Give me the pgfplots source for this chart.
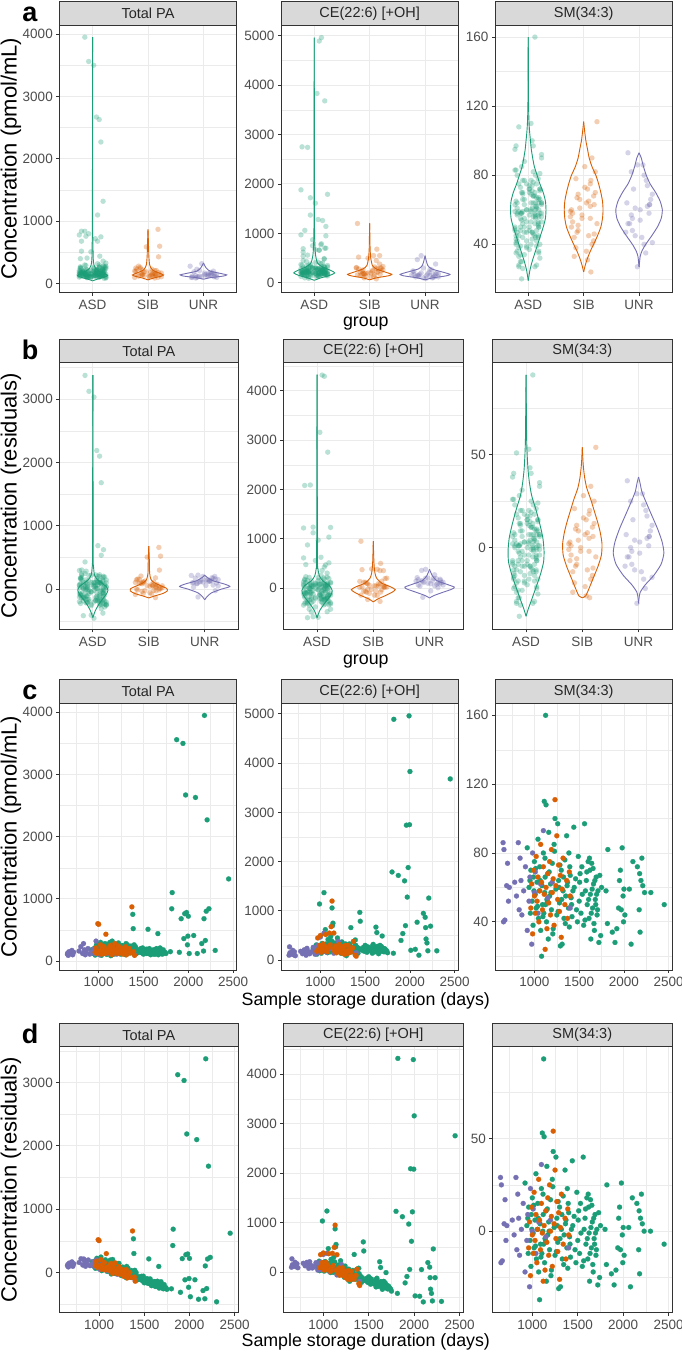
\documentclass[border=0pt]{standalone}
\usepackage{fontspec}
\setmainfont{Liberation Sans}
\usepackage{pgfplots}
\usepackage{pgfplotstable}
\pgfplotsset{compat=1.18}
\definecolor{asd}{HTML}{1B9E77}
\definecolor{sib}{HTML}{D95F02}
\definecolor{unr}{HTML}{7570B3}
\definecolor{gridc}{HTML}{EBEBEB}
\definecolor{bord}{HTML}{333333}
\definecolor{stripbg}{HTML}{D9D9D9}
\definecolor{ticklab}{HTML}{4D4D4D}

% columns: j = jitter offset, d = storage days, pa/ce/sm = concentration, par/cer/smr = residuals
\pgfplotstableread{
j d pa par ce cer sm smr
-0.22 920 180 171 230 163 83 26
0.05 940 120 102 150 72 60 3
0.18 955 210 185 310 223 45 -12
-0.10 960 95 68 120 30 70 13
0.12 975 260 226 180 82 52 -5
-0.17 985 140 102 260 156 38 -19
0.21 990 230 189 1140 1034 66 9
-0.03 1000 110 65 200 88 75 18
0.09 1010 170 120 140 22 56 -1
-0.14 1020 300 246 340 217 48 -9
0.24 1030 90 31 230 101 63 6
-0.07 1040 200 137 1370 1236 88 31
0.15 1045 150 85 180 43 42 -15
-0.20 1055 250 180 620 477 58 1
0.02 1060 130 58 300 154 72 15
0.19 1070 280 203 250 99 35 -22
-0.12 1080 160 79 150 -7 20 -37
0.07 1085 220 137 420 260 61 4
-0.24 1090 105 19 210 48 50 -7
0.13 1100 190 100 280 112 80 23
-0.22 1105 270 178 350 179 45 -12
0.05 1110 140 45 170 -4 110 53
0.18 1115 240 143 480 304 57 0
-0.10 1120 120 21 240 61 66 9
0.12 1125 300 199 390 208 160 93
-0.17 1130 180 76 1060 875 108 51
0.21 1135 85 -21 700 512 40 -17
-0.03 1140 210 102 750 560 53 -4
0.09 1150 320 207 290 94 68 11
-0.14 1155 150 35 200 1 30 -27
0.24 1160 260 143 320 118 92 35
-0.07 1170 110 -12 160 -47 55 -2
0.15 1180 200 74 260 47 62 5
-0.20 1190 170 39 450 232 47 -10
0.02 1200 240 105 190 -34 74 17
0.19 1210 130 -10 310 80 36 -21
-0.12 1220 290 146 220 -15 85 28
0.07 1230 160 11 140 -101 100 43
-0.24 1240 210 57 370 124 59 2
0.13 1250 120 -38 250 -2 44 -13
-0.22 1260 250 88 180 -78 97 40
0.05 1270 180 13 120 -143 64 7
0.18 1280 140 -31 330 61 51 -6
-0.10 1290 220 44 90 -184 26 -31
0.12 1300 100 -80 260 -20 70 13
-0.17 1310 190 5 200 -86 27 -30
0.21 1320 260 71 150 -141 58 1
-0.03 1330 150 -44 290 -7 42 -15
0.09 1340 210 12 660 358 76 19
-0.14 1350 130 -73 220 -88 55 -2
0.24 1360 240 33 170 -144 90 33
-0.07 1370 170 -42 380 61 63 6
0.15 1380 750 534 240 -85 48 -9
-0.20 1385 520 302 300 -28 80 23
0.02 1390 200 -21 410 80 37 -20
0.19 1400 150 -75 190 -146 67 10
-0.12 1410 230 0 260 -82 54 -3
0.07 1420 120 -114 140 -207 43 -14
-0.24 1440 180 -63 970 612 95 38
0.13 1445 140 -105 790 429 60 3
-0.22 1460 170 -82 210 -160 65 8
0.05 1480 130 -131 260 -121 40 -17
0.18 1490 210 -56 180 -206 78 21
-0.10 1500 110 -160 300 -92 52 -5
0.12 1510 160 -115 230 -168 68 11
-0.17 1520 140 -139 160 -243 45 -12
0.21 1530 190 -94 270 -139 72 15
-0.03 1550 510 217 210 -210 38 -19
0.09 1560 120 -177 190 -236 97 40
-0.14 1570 170 -132 250 -181 58 1
0.24 1580 100 -206 140 -297 64 7
-0.07 1590 150 -161 320 -122 50 -7
0.15 1600 130 -185 220 -228 75 18
-0.20 1610 180 -140 170 -284 42 -15
0.02 1620 120 -204 670 211 70 13
0.19 1625 160 -166 260 -202 56 -1
-0.12 1630 110 -219 560 95 30 -27
0.07 1640 190 -143 200 -270 74 17
-0.24 1650 140 -198 130 -346 48 -9
0.13 1660 440 98 240 -242 62 5
-0.22 1670 120 -227 180 -307 35 -22
0.05 1680 170 -181 280 -213 53 -4
0.18 1690 130 -226 490 -8 66 9
-0.10 1700 150 -210 210 -294 44 -13
0.12 1710 110 -255 170 -340 58 1
-0.17 1720 180 -189 230 -285 28 -29
0.21 1740 140 -238 190 -336 32 -25
-0.03 1750 120 -263 150 -382 60 3
0.09 1820 1100 686 4890 4319 82 25
-0.14 1815 840 428 140 -428 39 -18
0.24 1800 150 -255 1790 1230 58 1
-0.07 1870 3560 3123 1720 1121 34 -23
0.15 1900 140 -310 400 -216 28 -29
-0.20 1920 680 221 540 -87 36 -21
0.02 1940 3500 3032 1610 972 48 -9
0.19 1950 360 -113 700 56 64 7
-0.12 1960 760 283 2740 2090 70 13
0.07 1970 2670 2188 1280 625 47 -10
-0.24 1980 780 294 1880 1219 83 26
0.13 1990 260 -231 4960 4294 55 -2
-0.22 1995 400 -93 2750 2081 40 -17
0.05 2000 720 225 3830 3158 59 2
0.18 2010 120 -380 200 -478 44 -13
-0.10 2060 410 -112 220 -486 59 2
0.12 2080 2630 2099 770 53 27 -30
-0.17 2100 120 -420 100 -600 75 18
0.21 2150 280 -283 950 194 72 15
-0.03 2170 160 -412 870 103 47 -10
0.09 2175 680 106 660 -110 68 11
-0.14 2180 3950 3374 430 -343 34 -23
0.24 2190 330 -251 350 -428 64 7
-0.07 2200 800 215 190 -580 77 20
0.15 2210 2270 1680 1260 470 61 4
-0.20 2230 840 241 690 -111 57 0
0.02 2300 170 -460 190 -590 57 0
0.19 2450 1320 622 3680 2756 50 -7
-0.12 995 150 107 170 61 58 1
0.07 1015 220 168 280 160 71 14
-0.24 1035 130 69 210 78 49 -8
0.13 1065 180 106 330 182 64 7
-0.22 1095 250 162 190 25 43 -14
0.05 1118 160 62 260 82 77 20
0.18 1145 230 120 220 27 52 -5
-0.10 1165 120 1 350 146 69 12
0.12 1185 270 142 170 -46 57 0
-0.17 1205 150 13 290 63 33 -24
0.21 1225 200 54 240 2 81 24
-0.03 1245 110 -45 310 61 60 3
0.09 1265 230 66 200 -60 46 -11
-0.14 1285 160 -13 270 -2 73 16
0.24 1305 280 98 180 -103 53 -4
-0.07 1325 120 -71 330 36 66 9
0.15 1345 190 -10 250 -55 39 -18
-0.20 1365 140 -69 210 -106 61 4
0.02 1395 260 37 300 -33 72 15
0.19 1415 170 -62 180 -164 50 -7
-0.12 1430 130 -109 240 -113 58 1
0.07 1470 200 -57 200 -175 47 -10
-0.24 1505 150 -123 280 -115 63 6
0.13 1535 120 -166 190 -222 56 -1
-0.22 1565 200 -99 240 -188 41 -16
0.05 1585 130 -178 300 -140 69 12
0.18 1605 160 -157 180 -271 53 -4
-0.10 1615 110 -212 230 -226 77 20
0.12 1635 140 -191 280 -188 45 -12
-0.17 1645 200 -135 160 -313 59 2
0.21 1655 150 -190 220 -259 71 14
-0.03 1665 100 -244 300 -184 39 -18
0.09 1675 160 -189 200 -290 64 7
-0.14 1685 210 -143 250 -246 50 -7
0.24 1695 120 -238 180 -321 56 -1
-0.07 1705 170 -192 240 -267 47 -10
0.15 1730 130 -244 200 -321 67 10
-0.20 950 170 147 200 116 64 7
0.02 1125 200 99 230 48 50 -7
0.19 1275 190 21 210 -56 60 3
}\ASD

\pgfplotstableread{
j d pa par ce cer sm smr
-0.10 960 140 113 180 90 48 -9
0.12 970 210 178 450 355 62 5
-0.17 980 120 84 220 119 33 -24
0.21 990 600 520 300 194 70 13
-0.03 1000 590 505 500 388 55 -2
0.09 1010 160 110 160 42 45 -12
-0.14 1020 260 206 240 117 78 21
0.24 1030 110 51 330 201 52 -5
-0.07 1040 190 127 190 56 66 9
0.15 1050 140 72 280 140 40 -17
-0.20 1060 230 158 520 374 58 1
0.02 1070 120 43 200 49 85 28
0.19 1080 430 300 170 13 63 6
-0.12 1090 170 84 260 98 47 -10
0.07 1100 150 60 550 382 72 15
-0.24 1110 200 105 310 136 56 -1
0.13 1120 130 31 680 501 24 -27
-0.22 1130 250 146 1200 950 60 3
0.05 1140 180 72 230 40 36 -21
0.18 1150 100 -13 550 354 68 11
-0.10 1160 220 103 180 -22 51 -6
0.12 1170 160 38 290 83 75 18
-0.17 1180 280 154 150 -63 44 -13
0.21 1190 140 9 240 22 82 25
-0.03 1200 190 55 200 -24 57 0
0.09 1210 120 -20 320 90 65 8
-0.14 1220 240 96 170 -65 38 -19
0.24 1230 170 21 260 19 111 54
-0.07 1240 130 -23 140 -106 61 4
0.15 1250 210 52 220 -32 90 33
-0.20 1260 150 -12 280 22 53 -4
0.02 1270 110 -57 120 -143 73 16
0.19 1280 180 9 300 31 46 -11
-0.12 1290 140 -36 190 -84 67 10
0.07 1300 230 50 130 -150 31 -26
-0.24 1310 100 -85 300 14 59 2
0.13 1320 160 -29 210 -81 77 20
-0.22 1340 200 2 160 -142 50 -7
0.05 1360 130 -77 250 -64 64 7
0.18 1370 870 658 380 61 42 -15
-0.10 1390 150 -71 100 -230 69 12
0.12 1400 90 -135 80 -270 55 -2
}\SIB

\pgfplotstableread{
j d pa par ce cer sm smr
-0.03 650 110 110 100 100 86 29
0.09 655 130 130 270 270 40 -17
-0.14 660 90 90 150 150 82 25
0.24 670 150 150 120 120 41 -16
-0.07 690 120 120 200 200 61 4
0.15 700 170 170 110 110 74 17
-0.20 710 100 100 170 170 52 -5
0.02 720 140 140 90 90 60 3
0.19 780 160 160 180 180 63 6
-0.12 800 230 220 130 130 55 -2
0.07 820 120 120 210 199 86 29
-0.24 830 280 215 160 143 47 -10
0.13 840 180 180 100 78 77 20
-0.22 850 100 100 240 212 64 7
0.05 860 150 150 180 146 44 -13
0.18 880 200 200 130 85 58 1
-0.10 900 110 110 170 114 72 15
0.12 920 140 131 260 193 35 -22
-0.17 940 190 172 120 42 52 -5
0.21 950 120 97 200 116 66 9
-0.03 970 320 200 300 205 27 -30
0.09 980 160 124 150 49 80 23
-0.14 1000 130 85 470 358 57 0
0.24 1010 100 50 180 62 69 12
-0.07 1040 210 147 550 380 45 -12
0.15 1070 140 63 160 9 62 5
-0.20 1100 120 30 230 62 93 36
0.02 1150 170 57 140 -56 54 -3
0.19 1200 110 -25 380 156 63 6
-0.12 1400 100 -125 150 -186 48 -9
}\UNR

% violin outlines: y and half-width w (category units)
\pgfplotstableread{
y w
45 0
70 0.08
100 0.2
130 0.27
160 0.22
200 0.12
250 0.05
300 0.025
400 0.012
700 0.006
1000 0.003
3950 0
}\vaPAasd
\pgfplotstableread{
y w
60 0
90 0.1
120 0.24
140 0.28
170 0.2
220 0.08
300 0.03
450 0.015
600 0.01
870 0
}\vaPAsib
\pgfplotstableread{
y w
70 0
95 0.12
120 0.35
140 0.42
165 0.3
200 0.12
250 0.05
330 0
}\vaPAunr
\pgfplotstableread{
y w
50 0
100 0.12
150 0.28
200 0.37
250 0.3
320 0.15
400 0.06
550 0.025
700 0.015
1000 0.006
2000 0.003
4960 0
}\vaCEasd
\pgfplotstableread{
y w
60 0
100 0.12
140 0.33
170 0.4
210 0.3
280 0.12
350 0.05
500 0.02
700 0.008
1200 0
}\vaCEsib
\pgfplotstableread{
y w
60 0
100 0.14
140 0.38
170 0.45
210 0.34
280 0.12
350 0.05
450 0.02
550 0
}\vaCEunr
\pgfplotstableread{
y w
19 0
25 0.03
30 0.07
35 0.12
40 0.17
45 0.22
50 0.27
55 0.31
60 0.32
65 0.31
70 0.27
75 0.21
80 0.16
85 0.11
90 0.08
95 0.055
100 0.04
105 0.025
110 0.015
120 0.006
140 0.003
160 0
}\vaSMasd
\pgfplotstableread{
y w
24 0
28 0.03
32 0.07
36 0.12
40 0.18
45 0.25
50 0.31
55 0.34
60 0.35
65 0.34
70 0.31
75 0.27
80 0.22
85 0.15
90 0.1
95 0.07
100 0.04
105 0.02
111 0
}\vaSMsib
\pgfplotstableread{
y w
27 0
30 0.01
33 0.02
36 0.05
40 0.12
45 0.23
50 0.33
55 0.4
60 0.42
65 0.38
70 0.3
75 0.2
80 0.13
85 0.08
90 0.04
93 0
}\vaSMunr
\pgfplotstableread{
y w
-450 0
-350 0.04
-250 0.1
-150 0.18
-80 0.24
-20 0.27
40 0.24
100 0.15
150 0.08
220 0.03
350 0.012
600 0.006
3380 0
}\vbPAasd
\pgfplotstableread{
y w
-140 0
-110 0.1
-70 0.25
-30 0.33
10 0.32
50 0.22
100 0.1
150 0.04
250 0.015
450 0.01
680 0
}\vbPAsib
\pgfplotstableread{
y w
-170 0
-120 0.04
-60 0.12
0 0.3
40 0.45
80 0.35
130 0.15
180 0.05
220 0
}\vbPAunr
\pgfplotstableread{
y w
-600 0
-450 0.05
-300 0.14
-150 0.24
-50 0.27
50 0.22
150 0.1
250 0.04
400 0.015
700 0.007
4330 0
}\vbCEasd
\pgfplotstableread{
y w
-280 0
-220 0.08
-150 0.22
-80 0.34
-30 0.39
30 0.3
100 0.15
200 0.06
300 0.03
500 0.012
950 0
}\vbCEsib
\pgfplotstableread{
y w
-200 0
-150 0.08
-80 0.25
-20 0.4
20 0.44
80 0.3
150 0.13
250 0.05
380 0
}\vbCEunr
\pgfplotstableread{
y w
-37 0
-33 0.04
-28 0.1
-22 0.17
-15 0.25
-8 0.31
-2 0.32
5 0.3
12 0.25
20 0.18
28 0.1
35 0.06
42 0.035
50 0.02
60 0.01
93 0
}\vbSMasd
\pgfplotstableread{
y w
-27 0
-26 0.06
-22 0.12
-16 0.2
-10 0.28
-4 0.34
2 0.35
8 0.32
14 0.27
20 0.21
26 0.15
32 0.08
38 0.04
45 0.015
54 0
}\vbSMsib
\pgfplotstableread{
y w
-30 0
-27 0.01
-24 0.03
-20 0.12
-15 0.27
-9 0.4
-3 0.45
3 0.42
10 0.34
17 0.24
24 0.14
30 0.06
35 0.025
38 0
}\vbSMunr

\pgfplotsset{
  gg/.style={scale only axis, anchor=south west,
    axis line style={draw=bord, line width=0.8pt},
    grid=both, major grid style={draw=gridc, line width=0.9pt},
    minor grid style={draw=gridc, line width=0.45pt},
    tick align=outside, tick pos=left, major tick length=3pt, minor tick length=0pt,
    tick style={draw=bord, line width=0.8pt},
    ticklabel style={font=\fontsize{13.5}{15}\selectfont, text=ticklab},
    /pgf/number format/1000 sep={}, /pgf/number format/assume math mode=true,
    xticklabel shift=1pt},
  disc/.style={xmin=0.4, xmax=3.6, xtick={1,2,3}, xticklabels={ASD,SIB,UNR}},
  days/.style={xmin=560, xmax=2540, xtick={1000,1500,2000,2500}, minor xtick={750,1250,1750,2250}},
  vio/.style={draw=#1, line width=0.9pt, no markers, smooth, tension=0.4},
  jit/.style={only marks, mark=*, color=#1, mark size=2.7pt,
    mark options={fill=#1, draw=#1, fill opacity=0.3, draw opacity=0}},
  sc/.style={only marks, mark=*, color=#1, mark size=2.5pt,
    mark options={fill=#1, draw=#1, line width=0.2pt}},
}
\newcommand{\violin}[3]{%
  \addplot[vio=#3] table[x expr=#2+\thisrow{w}, y=y]{#1};
  \addplot[vio=#3] table[x expr=#2-\thisrow{w}, y=y]{#1};}
\newcommand{\jits}[1]{%
  \addplot[jit=asd] table[x expr=1+\thisrow{j}, y=#1]{\ASD};
  \addplot[jit=sib] table[x expr=2+\thisrow{j}, y=#1]{\SIB};
  \addplot[jit=unr] table[x expr=3+\thisrow{j}, y=#1]{\UNR};}
\newcommand{\scat}[1]{%
  \addplot[sc=asd] table[x=d, y=#1]{\ASD};
  \addplot[sc=unr] table[x=d, y=#1]{\UNR};
  \addplot[sc=sib] table[x=d, y=#1]{\SIB};}
\newcommand{\strip}[4]{%
  \draw[fill=stripbg, draw=bord, line width=0.8pt] ({#1pt},{#3pt}) rectangle ({#2pt},{#3pt+23.4pt});
  \node[font=\fontsize{14.5}{17}\selectfont, text=black!85] at ({(#1pt+#2pt)/2},{#3pt+11.7pt}) {#4};}

\begin{document}
\begin{tikzpicture}
\useasboundingbox (0,0) rectangle (681pt,1355pt);
\fill[white] (0,0) rectangle (681pt,1355pt);

% ---------- Row a ----------
\begin{axis}[gg, disc, at={(59.3pt,1062.3pt)}, width=177.4pt, height=267.7pt,
  ymin=-145, ymax=4145, ytick={0,1000,2000,3000,4000}, minor ytick={500,1500,2500,3500}]
\violin{\vaPAasd}{1}{asd}\violin{\vaPAsib}{2}{sib}\violin{\vaPAunr}{3}{unr}
\jits{pa}
\end{axis}
\begin{axis}[gg, disc, at={(281pt,1062.3pt)}, width=177.3pt, height=267.7pt,
  ymin=-200, ymax=5215, ytick={0,1000,2000,3000,4000,5000}, minor ytick={500,1500,2500,3500,4500}]
\violin{\vaCEasd}{1}{asd}\violin{\vaCEsib}{2}{sib}\violin{\vaCEunr}{3}{unr}
\jits{ce}
\end{axis}
\begin{axis}[gg, disc, at={(495pt,1062.3pt)}, width=177.3pt, height=267.7pt,
  ymin=12, ymax=167, ytick={40,80,120,160}, minor ytick={20,60,100,140}]
\violin{\vaSMasd}{1}{asd}\violin{\vaSMsib}{2}{sib}\violin{\vaSMunr}{3}{unr}
\jits{sm}
\end{axis}

% ---------- Row b ----------
\begin{axis}[gg, disc, at={(59.3pt,725.7pt)}, width=179pt, height=266.6pt,
  ymin=-635, ymax=3575, ytick={0,1000,2000,3000}, minor ytick={-500,500,1500,2500,3500}]
\violin{\vbPAasd}{1}{asd}\violin{\vbPAsib}{2}{sib}\violin{\vbPAunr}{3}{unr}
\jits{par}
\end{axis}
\begin{axis}[gg, disc, at={(283.3pt,725.7pt)}, width=180pt, height=266.6pt,
  ymin=-835, ymax=4570, ytick={0,1000,2000,3000,4000}, minor ytick={-500,500,1500,2500,3500,4500}]
\violin{\vbCEasd}{1}{asd}\violin{\vbCEsib}{2}{sib}\violin{\vbCEunr}{3}{unr}
\jits{cer}
\end{axis}
\begin{axis}[gg, disc, at={(492.3pt,725.7pt)}, width=180pt, height=266.6pt,
  ymin=-44, ymax=99.6, ytick={0,50}, minor ytick={-25,25,75}]
\violin{\vbSMasd}{1}{asd}\violin{\vbSMsib}{2}{sib}\violin{\vbSMunr}{3}{unr}
\jits{smr}
\end{axis}

% ---------- Row c ----------
\begin{axis}[gg, days, at={(59.3pt,385pt)}, width=177.4pt, height=266.7pt,
  ymin=-145, ymax=4145, ytick={0,1000,2000,3000,4000}, minor ytick={500,1500,2500,3500}]
\scat{pa}
\end{axis}
\begin{axis}[gg, days, at={(281pt,385pt)}, width=177.3pt, height=266.7pt,
  ymin=-200, ymax=5215, ytick={0,1000,2000,3000,4000,5000}, minor ytick={500,1500,2500,3500,4500}]
\scat{ce}
\end{axis}
\begin{axis}[gg, days, at={(495pt,385pt)}, width=177.3pt, height=266.7pt,
  ymin=12, ymax=167, ytick={40,80,120,160}, minor ytick={20,60,100,140}]
\scat{sm}
\end{axis}

% ---------- Row d ----------
\begin{axis}[gg, days, at={(59.3pt,42.3pt)}, width=179pt, height=266pt,
  ymin=-632, ymax=3565, ytick={0,1000,2000,3000}, minor ytick={-500,500,1500,2500,3500}]
\scat{par}
\end{axis}
\begin{axis}[gg, days, at={(283.3pt,42.3pt)}, width=180pt, height=266pt,
  ymin=-818, ymax=4555, ytick={0,1000,2000,3000,4000}, minor ytick={-500,500,1500,2500,3500,4500}]
\scat{cer}
\end{axis}
\begin{axis}[gg, days, at={(492.3pt,42.3pt)}, width=180pt, height=266pt,
  ymin=-44, ymax=99.6, ytick={0,50}, minor ytick={-25,25,75}]
\scat{smr}
\end{axis}

% ---------- strips ----------
\strip{59.3}{236.7}{1330}{Total PA}
\strip{281}{458.3}{1330}{CE(22:6) [+OH]}
\strip{495}{672.3}{1330}{SM(34:3)}
\strip{59.3}{238.3}{992.3}{Total PA}
\strip{283.3}{463.3}{992.3}{CE(22:6) [+OH]}
\strip{492.3}{672.3}{992.3}{SM(34:3)}
\strip{59.3}{236.7}{651.7}{Total PA}
\strip{281}{458.3}{651.7}{CE(22:6) [+OH]}
\strip{495}{672.3}{651.7}{SM(34:3)}
\strip{59.3}{238.3}{308.3}{Total PA}
\strip{283.3}{463.3}{308.3}{CE(22:6) [+OH]}
\strip{492.3}{672.3}{308.3}{SM(34:3)}

% ---------- panel letters ----------
\begin{scope}[every node/.style={font=\fontsize{27}{30}\selectfont\bfseries, anchor=base}]
\node at (30pt,1333.3pt) {a};
\node at (30pt,995pt) {b};
\node at (30pt,655pt) {c};
\node at (30pt,311pt) {d};
\end{scope}

% ---------- axis titles ----------
\begin{scope}[every node/.style={font=\fontsize{22}{26}\selectfont, rotate=90}]
\node at (11pt,1196.2pt) {Concentration (pmol/mL)};
\node at (11pt,859pt) {Concentration (residuals)};
\node at (11pt,518.3pt) {Concentration (pmol/mL)};
\node at (11pt,175.3pt) {Concentration (residuals)};
\end{scope}
\begin{scope}[every node/.style={font=\fontsize{17.8}{21}\selectfont}]
\node at (365.8pt,1031pt) {group};
\node at (365.8pt,693.5pt) {group};
\node at (365.8pt,354.5pt) {Sample storage duration (days)};
\node at (365.8pt,13.5pt) {Sample storage duration (days)};
\end{scope}
\end{tikzpicture}
\end{document}
